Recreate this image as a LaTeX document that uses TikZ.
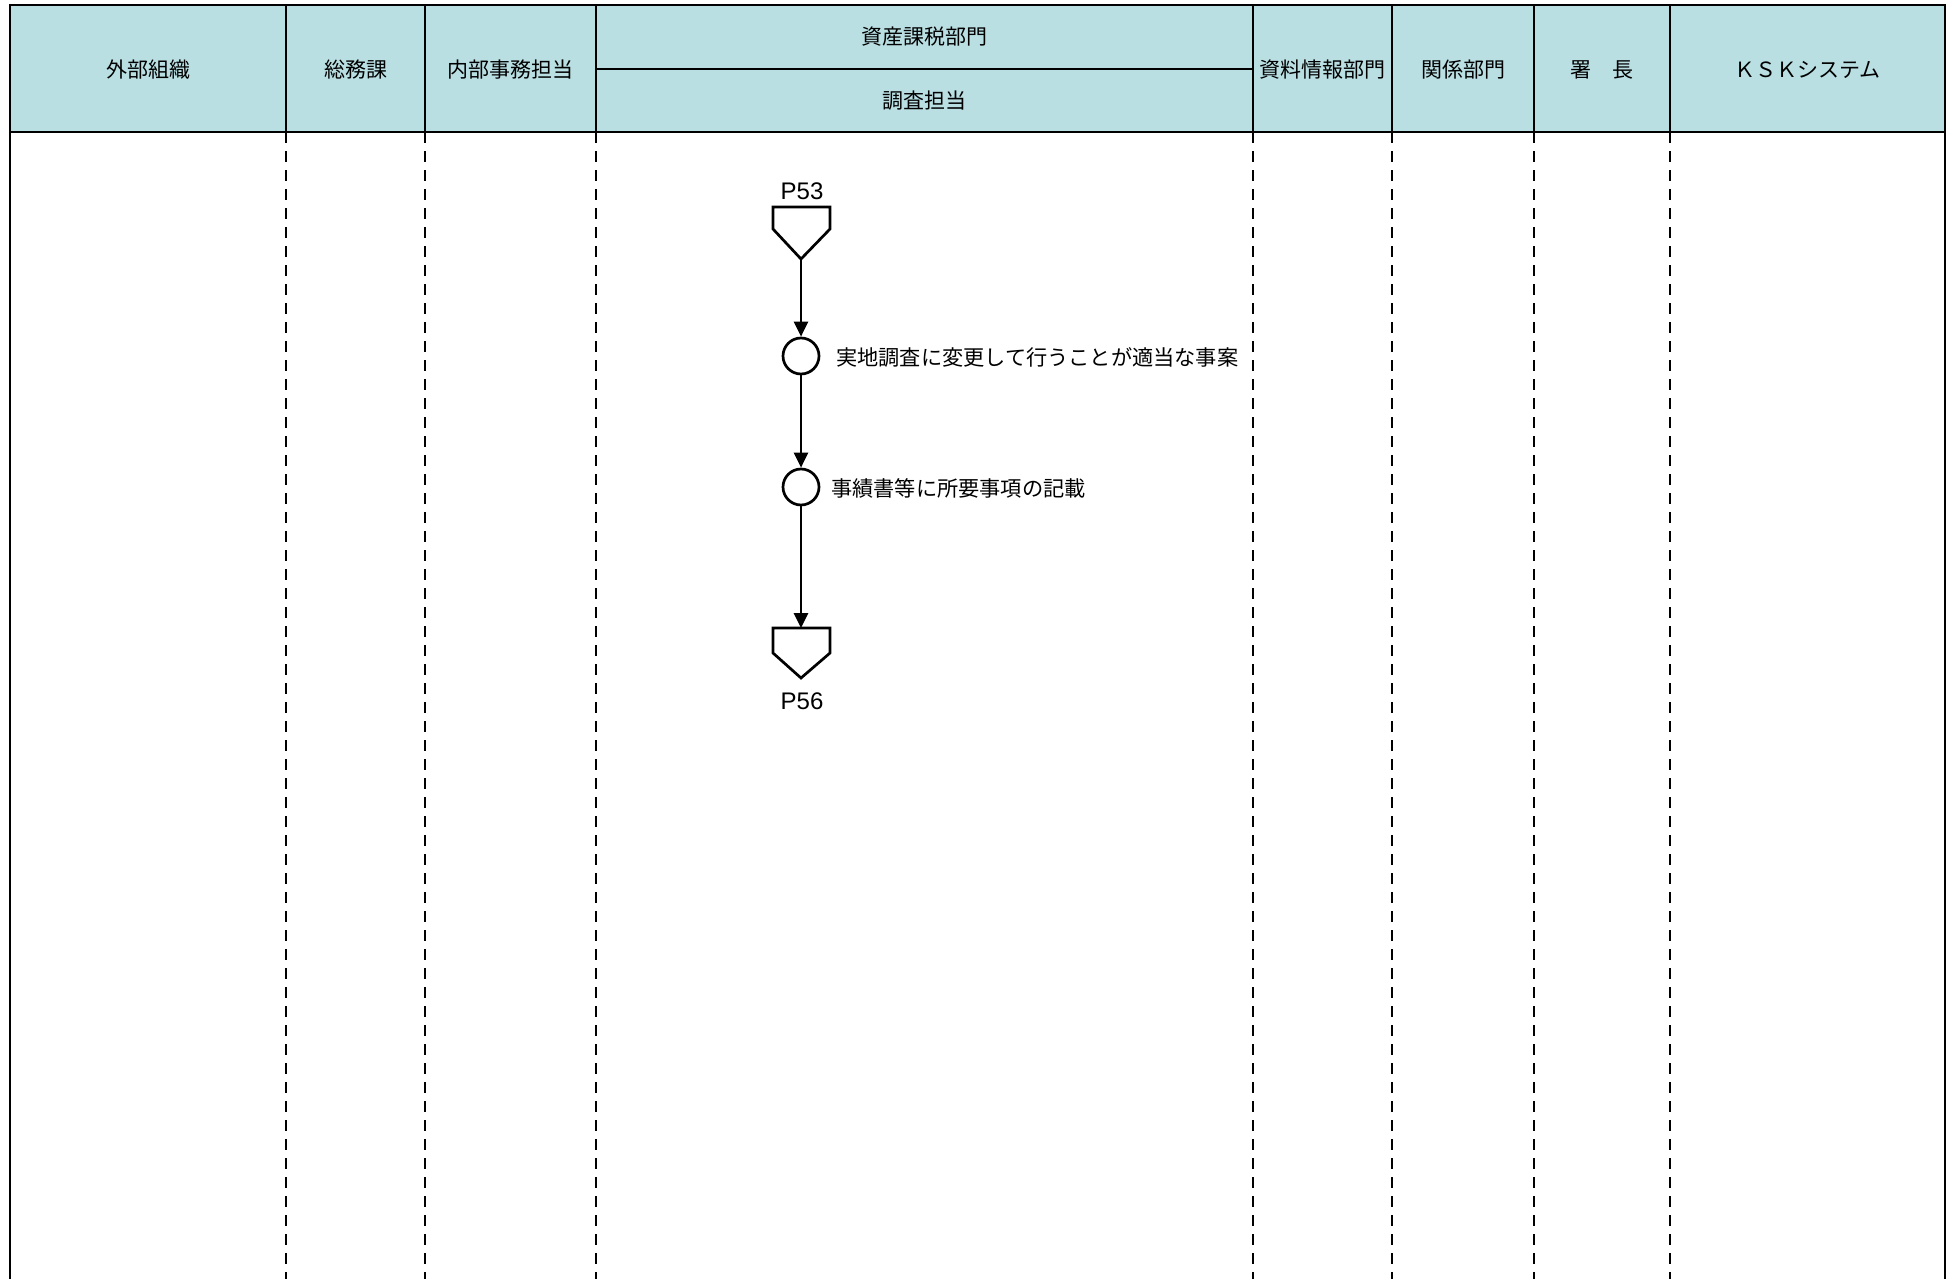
\documentclass[tikz,border=0pt]{standalone}
\usepackage{fontspec}
\setmainfont{Noto Sans CJK JP}
\newfontfamily\latinfont{Liberation Sans}
\usetikzlibrary{arrows.meta}
\definecolor{hdrfill}{RGB}{185,223,227}
\tikzset{
  hdrtext/.style={font=\fontsize{21}{25}\selectfont, inner sep=0pt},
  steptext/.style={font=\fontsize{21.2}{25}\selectfont, inner sep=0pt, anchor=west},
  pagetext/.style={font=\latinfont\fontsize{24}{28}\selectfont, inner sep=0pt},
  stepcircle/.style={circle, draw, line width=2.7pt, minimum size=36pt, inner sep=0pt},
  conn/.style={line width=2.7pt, line join=miter},
  flow/.style={line width=2.7pt, -{Triangle[length=15pt,width=14pt]}},
  lane/.style={line width=2.2pt, dash pattern=on 11pt off 8pt},
  hline/.style={line width=2.7pt}
}
\begin{document}
\begin{tikzpicture}[x=1pt,y=-1pt]
\useasboundingbox (0,0) rectangle (1959,1279);
\fill[white] (0,0) rectangle (1959,1279);
% header
\fill[hdrfill] (10,5) rectangle (1945,132);
\draw[hline] (10,1279) -- (10,5) -- (1945,5) -- (1945,1279);
\draw[hline] (10,132) -- (1945,132);
\draw[hline] (596,69) -- (1253,69);
\foreach \x in {286,425,596,1253,1392,1534,1670}{
  \draw[hline] (\x,5) -- (\x,132);
  \draw[lane] (\x,132) -- (\x,1279);
}
\node[hdrtext] (h1) at (148,70) {外部組織};
\node[hdrtext] (h2) at (355.5,70) {総務課};
\node[hdrtext] (h3) at (510.5,70) {内部事務担当};
\node[hdrtext] (h4) at (924.5,37) {資産課税部門};
\node[hdrtext] (h5) at (924.5,101) {調査担当};
\node[hdrtext] (h6) at (1322.5,70) {資料情報部門};
\node[hdrtext] (h7) at (1463,70) {関係部門};
\node[hdrtext] (h8) at (1602,70) {署　長};
\node[hdrtext] (h9) at (1807.5,70) {ＫＳＫシステム};
% connector P53
\node[pagetext] (p53) at (802,191) {P53};
\draw[conn] (773,207) -- (830,207) -- (830,229) -- (801,259) -- (773,229) -- cycle;
\coordinate (c1) at (801,259);
% steps
\node[stepcircle] (s1) at (801,356) {};
\node[steptext] (t1) at (836,357) {実地調査に変更して行うことが適当な事案};
\node[stepcircle] (s2) at (801,487) {};
\node[steptext] (t2) at (831,488) {事績書等に所要事項の記載};
% connector P56
\coordinate (c2) at (801,628);
\draw[conn] (773,628) -- (830,628) -- (830,653) -- (801,678) -- (773,653) -- cycle;
\node[pagetext] (p56) at (802,701) {P56};
% flows
\draw[flow] (c1) -- (s1.north);
\draw[flow] (s1.south) -- (s2.north);
\draw[flow] (s2.south) -- (c2);
\end{tikzpicture}
\end{document}
